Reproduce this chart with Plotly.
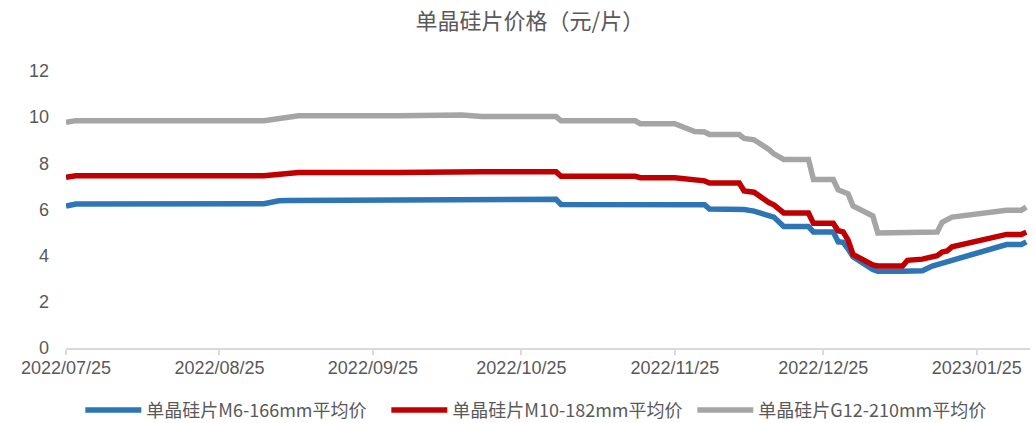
import plotly.graph_objects as go

dates = [
    "2022-07-25", "2022-07-27", "2022-09-03", "2022-09-06", "2022-09-08", "2022-09-10",
    "2022-09-30", "2022-10-07", "2022-10-13", "2022-10-17", "2022-11-01", "2022-11-02",
    "2022-11-17", "2022-11-18", "2022-11-25", "2022-11-29", "2022-12-01", "2022-12-02",
    "2022-12-08", "2022-12-09", "2022-12-11", "2022-12-14", "2022-12-15", "2022-12-17",
    "2022-12-22", "2022-12-23", "2022-12-27", "2022-12-28", "2022-12-29", "2022-12-30",
    "2022-12-31", "2023-01-04", "2023-01-05", "2023-01-10", "2023-01-11", "2023-01-14",
    "2023-01-16", "2023-01-17", "2023-01-18", "2023-01-19", "2023-01-20", "2023-01-31",
    "2023-02-03", "2023-02-04",
]

m6 = [
    6.15, 6.24, 6.25, 6.38, 6.39, 6.39,
    6.39, 6.42, 6.44, 6.44, 6.44, 6.22,
    6.22, 6.22, 6.22, 6.21, 6.21, 6.02,
    6.02, 6.00, 5.93, 5.72, 5.67, 5.26,
    5.26, 5.03, 5.03, 4.60, 4.58, 4.30,
    3.95, 3.40, 3.32, 3.32, 3.32, 3.35,
    3.55, 3.60, 3.65, 3.70, 3.80, 4.48,
    4.48, 4.60,
]

m10 = [
    7.40, 7.46, 7.46, 7.52, 7.57, 7.60,
    7.60, 7.63, 7.64, 7.64, 7.64, 7.44,
    7.44, 7.38, 7.38, 7.28, 7.24, 7.15,
    7.15, 6.80, 6.75, 6.30, 6.20, 5.85,
    5.85, 5.40, 5.40, 5.08, 5.03, 4.67,
    4.05, 3.60, 3.55, 3.55, 3.80, 3.85,
    3.92, 4.00, 4.16, 4.20, 4.38, 4.92,
    4.92, 5.02,
]

g12 = [
    9.78, 9.85, 9.85, 9.93, 9.96, 10.06,
    10.06, 10.07, 10.09, 10.03, 10.03, 9.84,
    9.84, 9.72, 9.72, 9.38, 9.36, 9.25,
    9.25, 9.08, 9.02, 8.60, 8.41, 8.17,
    8.17, 7.30, 7.30, 6.85, 6.75, 6.68,
    6.15, 5.72, 4.98, 4.98, 4.98, 5.00,
    5.00, 5.02, 5.45, 5.53, 5.67, 5.97,
    5.97, 6.10,
]

names = ["单晶硅片M6-166mm平均价", "单晶硅片M10-182mm平均价", "单晶硅片G12-210mm平均价"]
colors = ["#2E75B6", "#C00000", "#A5A5A5"]
title_text = "单晶硅片价格（元/片）"

FONT = "Liberation Sans, Noto Sans CJK SC, sans-serif"
TXT = "#595959"

fig = go.Figure()
for vals, name, col in zip([m6, m10, g12], names, colors):
    fig.add_trace(go.Scatter(
        x=dates, y=vals, mode="lines", name=name,
        line=dict(color=col, width=5.5),
    ))

fig.update_layout(
    width=1035, height=423,
    margin=dict(l=66, r=5, t=71, b=75, autoexpand=False),
    paper_bgcolor="white", plot_bgcolor="white",
    font=dict(family=FONT, color=TXT, size=18),
    title=dict(text=title_text, x=0.512, xanchor="center", y=0.95, yanchor="middle",
               font=dict(family="Noto Sans CJK SC, sans-serif", size=22, color=TXT)),
    showlegend=True,
    legend=dict(orientation="h", x=0.491, xanchor="center", y=-0.225, yanchor="middle",
                font=dict(family="Noto Sans CJK SC, Liberation Sans, sans-serif", size=18, color=TXT),
                entrywidth=235, entrywidthmode="pixels", itemwidth=56),
    xaxis=dict(
        type="date", range=["2022-07-25", "2023-02-04 18:00"],
        tick0="2022-07-25", dtick="M1", tickformat="%Y/%m/%d",
        showgrid=False, showline=True, linecolor="#D9D9D9", linewidth=1.5,
        ticks="outside", ticklen=5, tickcolor="#D9D9D9", tickwidth=1.5,
        tickfont=dict(size=18, color=TXT), zeroline=False, ticklabelstandoff=-2,
        automargin=False,
    ),
    yaxis=dict(
        range=[0, 12], dtick=2, showgrid=False, showline=False, zeroline=False,
        ticks="", tickfont=dict(size=18, color=TXT), ticklabelstandoff=16,
        automargin=False,
    ),
)

fig.write_html("out.html", config={"displayModeBar": False},
               post_script="document.body.style.margin='0';")
